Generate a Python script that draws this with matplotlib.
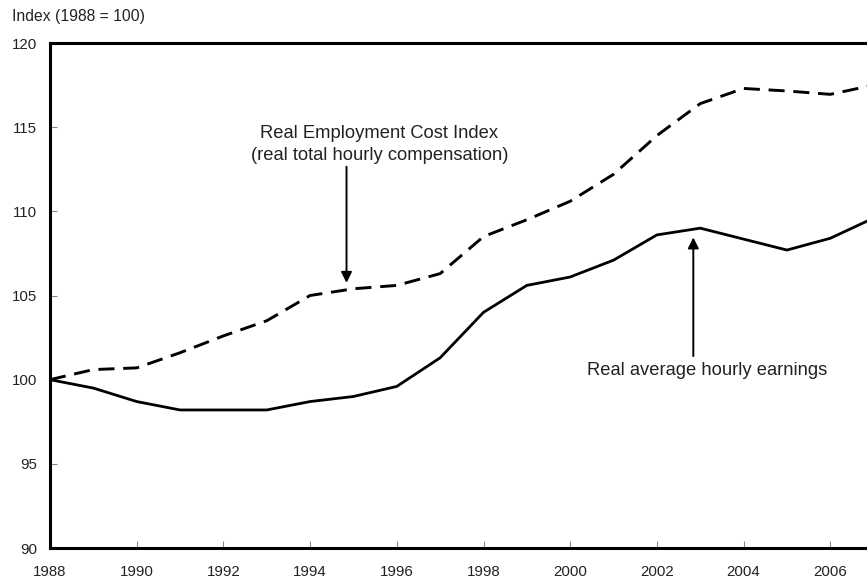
import matplotlib
matplotlib.use("Agg")
import matplotlib.pyplot as plt

years = [1988, 1989, 1990, 1991, 1992, 1993, 1994, 1995, 1996, 1997,
         1998, 1999, 2000, 2001, 2002, 2003, 2004, 2005, 2006, 2007]
eci = [100.0, 100.6, 100.7, 101.6, 102.6, 103.5, 105.0, 105.4, 105.6, 106.3,
       108.5, 109.5, 110.6, 112.2, 114.5, 116.4, 117.3, 117.15, 116.95, 117.5]
ahe = [100.0, 99.5, 98.7, 98.2, 98.2, 98.2, 98.7, 99.0, 99.6, 101.3,
       104.0, 105.6, 106.1, 107.1, 108.6, 109.0, 108.35, 107.7, 108.4, 109.6]
xticks = [1988, 1990, 1992, 1994, 1996, 1998, 2000, 2002, 2004, 2006]
yticks = [90, 95, 100, 105, 110, 115, 120]

plt.rcParams['font.family'] = ['Liberation Sans', 'DejaVu Sans']

W, H = 867, 577
fig = plt.figure(figsize=(W / 100, H / 100), dpi=100)
ax = fig.add_axes([50 / W, 1 - 548 / H, (W - 50) / W, (548 - 43) / H])

ax.plot(years, eci, color='black', lw=2.1, linestyle=(0, (5.5, 3.0)),
        solid_capstyle='butt', dash_capstyle='butt')
ax.plot(years, ahe, color='black', lw=2.0)

ax.set_xlim(1988, 1988 + (W - 50) / 43.35)
ax.set_ylim(90, 120)
ax.set_xticks(xticks)
ax.set_yticks(yticks)
ax.set_xticklabels([str(x) for x in xticks])
ax.set_yticklabels([str(y) for y in yticks])
ax.tick_params(direction='in', length=5, width=0.8, colors='#888888',
               labelcolor='#222222', labelsize=10.8)
ax.tick_params(axis='x', pad=12)
ax.tick_params(axis='y', pad=9.5)
ax.spines['right'].set_visible(False)
for s in ['left', 'bottom', 'top']:
    ax.spines[s].set_linewidth(2.2)
    ax.spines[s].set_color('black')

ax.annotate('', xy=(1994.84, 105.75), xytext=(1994.84, 112.65),
            arrowprops=dict(arrowstyle='-|>', color='black', lw=1.4,
                            mutation_scale=16, shrinkA=0, shrinkB=0))
ax.text(1995.6, 113.95, 'Real Employment Cost Index\n(real total hourly compensation)',
        ha='center', va='center', fontsize=13.2, color='#222222', linespacing=1.4)

ax.annotate('', xy=(2002.84, 108.45), xytext=(2002.84, 101.4),
            arrowprops=dict(arrowstyle='-|>', color='black', lw=1.4,
                            mutation_scale=16, shrinkA=0, shrinkB=0))
ax.text(2003.15, 100.55, 'Real average hourly earnings',
        ha='center', va='center', fontsize=13.2, color='#222222')

fig.text(12 / W, 1 - 17 / H, 'Index (1988 = 100)', ha='left', va='center',
         fontsize=11.3, color='#222222')

fig.savefig('out.png', dpi=100)
